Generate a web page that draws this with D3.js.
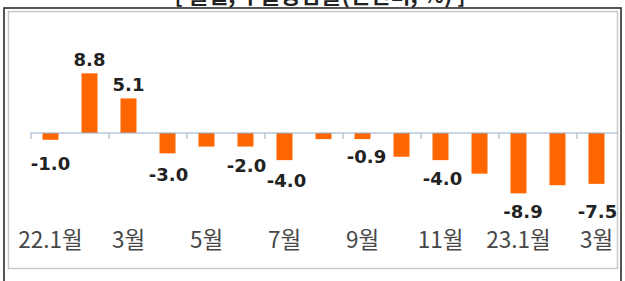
<!DOCTYPE html>
<html>
<head>
<meta charset="utf-8">
<script src="https://cdn.jsdelivr.net/npm/d3@7"></script>
<style>
  html, body { margin: 0; padding: 0; background: #fff; }
  svg { display: block; }
</style>
</head>
<body>
<svg id="chart" width="625" height="281"></svg>
<script>
// ---- data ----
const title = "[ 월별, 수출증감률(전년비, %) ]";
const categories = ["22.1","22.2","22.3","22.4","22.5","22.6","22.7","22.8","22.9","22.10","22.11","22.12","23.1","23.2","23.3"];
const values = [-1.0, 8.8, 5.1, -3.0, -2.0, -2.0, -4.0, -0.9, -0.9, -3.5, -4.0, -6.0, -8.9, -7.7, -7.5];
const valueLabels = ["-1.0","8.8","5.1","-3.0",null,"-2.0","-4.0",null,"-0.9",null,"-4.0",null,"-8.9",null,"-7.5"];
const tickLabels = ["22.1월","3월","5월","7월","9월","11월","23.1월","3월"];

// ---- label nudges (style, not data): [dx, dy] ----
const labelNudge = [[0,5],[0,0],[0,0],[1,3],[0,0],[1,0],[2,1.5],[0,0],[4,-1],[0,0],[2,0],[0,0],[4.5,0],[0,0],[1,9.5]];

const svg = d3.select("#chart");
const W = 625, H = 281;

// frame
svg.append("rect").attr("x",0).attr("y",0).attr("width",W).attr("height",H).attr("fill","#fff");
svg.append("rect").attr("x",4).attr("y",8).attr("width",617).attr("height",300)
  .attr("fill","none").attr("stroke","#2b2b2b").attr("stroke-width",1.6);
svg.append("rect").attr("x",8.5).attr("y",11.5).attr("width",609).attr("height",257)
  .attr("fill","none").attr("stroke","#c8c8c8").attr("stroke-width",1.5);

// title (clipped at the top edge, as in the reference)
svg.append("text").attr("x",320).attr("y",2.5).attr("text-anchor","middle")
  .attr("font-family","'Noto Sans CJK KR', sans-serif").attr("font-weight","bold")
  .attr("font-size",22).attr("fill","#222").text(title);

// scales
const pInner = 0.59;
const x = d3.scaleBand().domain(categories).range([31, 616]).paddingInner(pInner).paddingOuter(pInner/2);
const y = d3.scaleLinear().domain([-10, 10]).range([200.8, 65.2]);

// bars
svg.append("g").selectAll("rect").data(values).join("rect")
  .attr("x",(d,i)=>x(categories[i]))
  .attr("width",x.bandwidth())
  .attr("y",d=>Math.min(y(d),y(0)))
  .attr("height",d=>Math.abs(y(d)-y(0)))
  .attr("fill","#FF6600");

// axis line & ticks
const axisColor = "#93AECB";
svg.append("line").attr("x1",x.range()[0]).attr("x2",x.range()[1]+1)
  .attr("y1",y(0)).attr("y2",y(0)).attr("stroke",axisColor).attr("stroke-width",1);
const gap = (x.step()-x.bandwidth())/2;
const tickCats = categories.filter((c,i)=>i%2===0);
svg.append("g").selectAll("line").data(tickCats).join("line")
  .attr("x1",c=>x(c)-gap).attr("x2",c=>x(c)-gap)
  .attr("y1",y(0)).attr("y2",y(0)+6)
  .attr("stroke",axisColor).attr("stroke-width",1);

// category labels
svg.append("g").selectAll("text").data(tickCats).join("text")
  .attr("x",c=>x(c)+x.bandwidth()/2)
  .attr("y",248)
  .attr("text-anchor","middle")
  .attr("font-family","'Noto Sans CJK KR', sans-serif")
  .attr("font-size",22.5).attr("fill","#474747")
  .text((c,i)=>tickLabels[i]);

// value labels
const labelData = values.map((v,i)=>({v, i, t: valueLabels[i]})).filter(d=>d.t!==null);
svg.append("g").selectAll("text").data(labelData).join("text")
  .attr("x",d=>x(categories[d.i])+x.bandwidth()/2+labelNudge[d.i][0])
  .attr("y",d=>(d.v>=0 ? y(d.v)-7 : y(d.v)+25)+labelNudge[d.i][1])
  .attr("text-anchor","middle")
  .attr("font-family","'DejaVu Sans', sans-serif").attr("font-weight","bold")
  .attr("font-size",18).attr("fill","#222")
  .text(d=>d.t);
</script>
</body>
</html>
